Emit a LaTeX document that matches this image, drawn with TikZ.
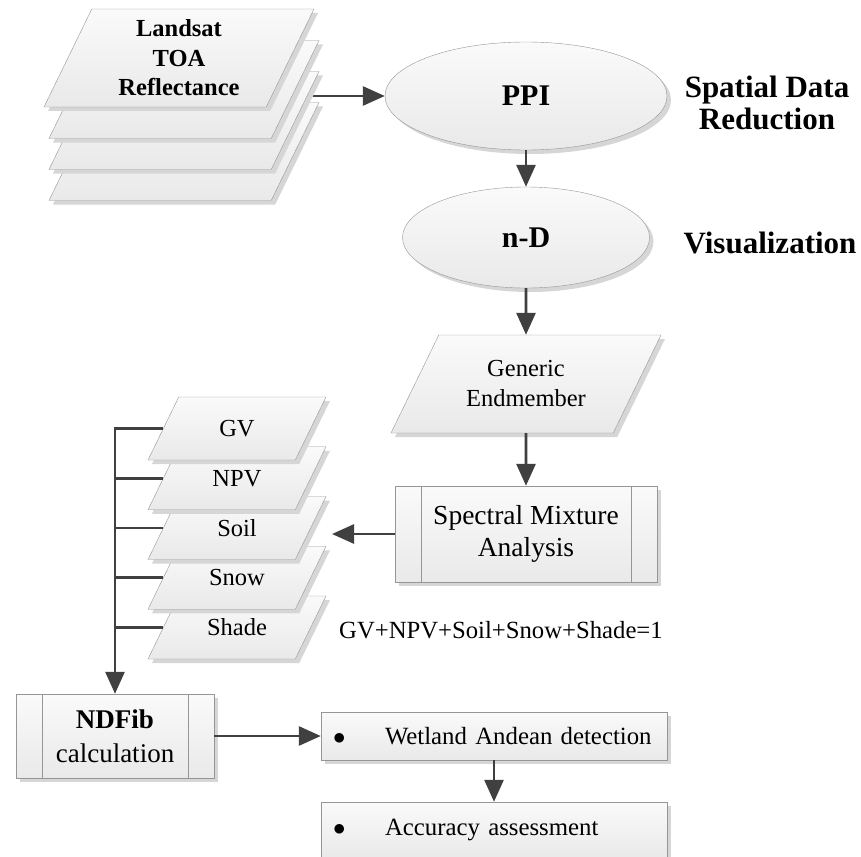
\documentclass[tikz,border=0pt]{standalone}
\usepackage{fontspec}
\setmainfont{Liberation Serif}
\usepackage{tikz}
\usetikzlibrary{shapes.geometric,arrows.meta,positioning,shadows,backgrounds}
\definecolor{linegray}{RGB}{64,64,64}
\definecolor{edgegray}{RGB}{150,150,150}
\definecolor{shadegray}{RGB}{214,214,214}
\definecolor{filltop}{RGB}{250,250,250}
\definecolor{fillbot}{RGB}{233,233,233}
% text block of fixed height, so that the slant of a layer follows its height
\newcommand{\slab}[3]{\parbox[c][#1][c]{#2}{\centering #3}}
\newcommand{\dotitem}{\makebox[52pt][l]{$\bullet$}}

\begin{document}
\begin{tikzpicture}[x=1pt, y=-1pt]
\tikzstyle{box} = [draw=edgegray, top color=filltop, bottom color=fillbot, drop shadow={shadow xshift=4pt, shadow yshift=-4pt, opacity=1, fill=shadegray}, inner sep=0pt, align=center]
\tikzstyle{layer} = [box, trapezium, trapezium left angle=64, trapezium right angle=116, trapezium stretches body]
\tikzstyle{landlayer} = [layer, minimum width=270pt, minimum height=98pt]
\tikzstyle{sublayer} = [layer, minimum width=178pt, minimum height=63pt, font=\fontsize{24.5}{29}\selectfont]
\tikzstyle{oval} = [box, ellipse, font=\bfseries\fontsize{30}{34}\selectfont]
\tikzstyle{subproc} = [box, rectangle, path picture={\draw[edgegray] ([xshift=26pt]path picture bounding box.north west) -- ([xshift=26pt]path picture bounding box.south west) ([xshift=-26pt]path picture bounding box.north east) -- ([xshift=-26pt]path picture bounding box.south east);}]
\tikzstyle{result} = [box, rectangle, minimum width=346pt, text width=322pt, inner xsep=12pt, align=left, font=\fontsize{24.8}{29}\selectfont]
\tikzstyle{heading} = [align=center, font=\bfseries\fontsize{31}{31.5}\selectfont]
\tikzstyle{arrow} = [line width=2.8pt, draw=linegray, -{Triangle[length=22pt,width=19pt]}]
\tikzstyle{bus} = [line width=2.8pt, draw=linegray]

\useasboundingbox (0,0) rectangle (861,856);

% Landsat stack, back to front
\node (land4) [landlayer] at (184,151.5) {\slab{98pt}{140pt}{}};
\node (land3) [landlayer, node distance=31pt, above of=land4] {\slab{98pt}{140pt}{}};
\node (land2) [landlayer, node distance=31pt, above of=land3] {\slab{98pt}{140pt}{}};
\node (land1) [landlayer, font=\bfseries\fontsize{24.5}{29.5}\selectfont] at (179,58) {\slab{98pt}{140pt}{Landsat\\TOA\\Reflectance}};

% main column
\node (PPI) [oval, minimum width=282pt, minimum height=108pt] at (526,96) {PPI};
\node (nD) [oval, minimum width=247pt, minimum height=101pt, node distance=141.5pt, below of=PPI] {n-D};
\node (Generic) [landlayer, font=\fontsize{24.5}{30}\selectfont, node distance=146.5pt, below of=nD] {\slab{98pt}{140pt}{Generic\\Endmember}};
\node (SMA) [subproc, minimum width=262pt, minimum height=96pt, font=\fontsize{27.5}{32}\selectfont, node distance=150pt, below of=Generic] {Spectral Mixture\\Analysis};

\node (sdr) [heading] at (767,103) {Spatial Data\\Reduction};
\node (vis) [heading] at (770,243) {Visualization};

% fraction layers, back to front
\node (Shade) [sublayer] at (237,627.5) {\slab{63pt}{90pt}{Shade}};
\node (Snow) [sublayer, node distance=49.75pt, above of=Shade] {\slab{63pt}{90pt}{Snow}};
\node (Soil) [sublayer, node distance=49.75pt, above of=Snow] {\slab{63pt}{90pt}{Soil}};
\node (NPV) [sublayer, node distance=49.75pt, above of=Soil] {\slab{63pt}{90pt}{NPV}};
\node (GV) [sublayer, node distance=49.75pt, above of=NPV] {\slab{63pt}{90pt}{GV}};

\node (sumrule) [font=\fontsize{24.7}{29}\selectfont] at (501,630) {GV+NPV+Soil+Snow+Shade=1};

% outputs
\node (NDFib) [subproc, minimum width=198pt, minimum height=84pt, font=\fontsize{27}{34}\selectfont] at (115,736) {\textbf{NDFib}\\calculation};
\node (Wetland) [result, minimum height=48pt, node distance=379pt, right of=NDFib] {\dotitem Wetland Andean detection};
\node (Accuracy) [result, minimum height=56pt, node distance=94pt, below of=Wetland] {\dotitem Accuracy assessment};

\coordinate (mixIn) at (332,534);

\draw [arrow] (PPI) -- (nD);
\draw [arrow] (nD) -- (Generic);
\draw [arrow] (Generic) -- (SMA);
\draw [arrow] (SMA) -- (mixIn);

\draw [arrow] (GV.left side) -| (NDFib);
\draw [bus] (NPV.left side) -- (NPV.left side -| NDFib);
\draw [bus] (Soil.left side) -- (Soil.left side -| NDFib);
\draw [bus] (Snow.left side) -- (Snow.left side -| NDFib);
\draw [bus] (Shade.left side) -- (Shade.left side -| NDFib);

\draw [arrow] (NDFib) -- (Wetland);
\draw [arrow] (Wetland) -- (Accuracy);

\begin{scope}[on background layer]
\draw [arrow] (PPI.west -| land3.center) -- (PPI.west);
\end{scope}
\end{tikzpicture}
\end{document}
